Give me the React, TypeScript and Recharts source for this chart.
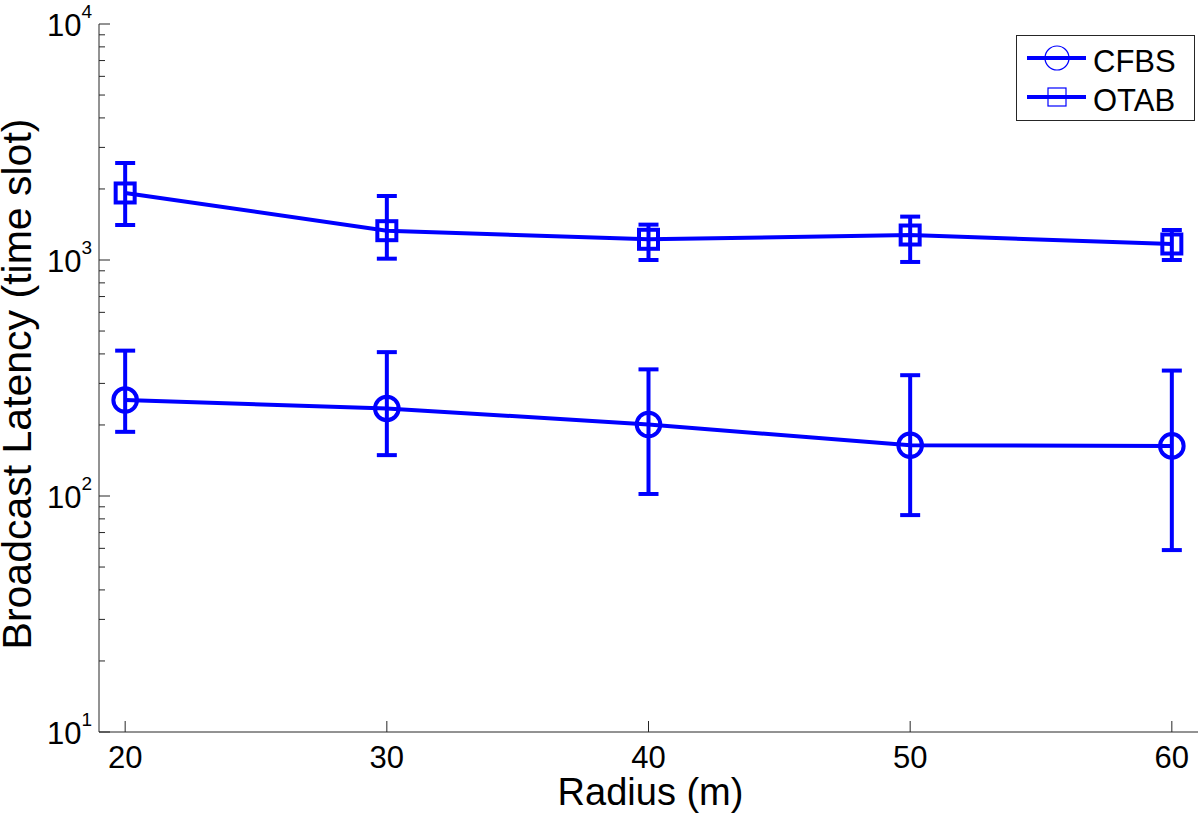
import {
  ComposedChart,
  Line,
  XAxis,
  YAxis,
  ErrorBar,
  Legend,
} from "recharts";

const FONT = "'Liberation Sans', Arial, Helvetica, sans-serif";
const BLUE = "#0000ff";
const AXIS = "#262626";

// radius (m)
const radius = [20, 30, 40, 50, 60];

// CFBS mean latency and error bar ends (time slots)
const cfbsMean = [255, 235, 201, 164, 163];
const cfbsLow = [187, 149, 102, 83, 59];
const cfbsHigh = [413, 407, 344, 325, 340];

// OTAB mean latency and error bar ends (time slots)
const otabMean = [1923, 1331, 1224, 1276, 1169];
const otabLow = [1407, 1013, 1000, 981, 1000];
const otabHigh = [2576, 1867, 1412, 1527, 1340];

const xTicks = [20, 30, 40, 50, 60];
const yMajorTicks = [10, 100, 1000, 10000];
const yMinorSteps = [2, 3, 4, 5, 6, 7, 8, 9];

const seriesNames = ["CFBS", "OTAB"];

const yAllTicks: number[] = [];
yMajorTicks.forEach((d, i) => {
  yAllTicks.push(d);
  if (i < yMajorTicks.length - 1) yMinorSteps.forEach((m) => yAllTicks.push(m * d));
});

const data = radius.map((r, i) => ({
  radius: r,
  cfbs: cfbsMean[i],
  cfbsErr: [cfbsMean[i] - cfbsLow[i], cfbsHigh[i] - cfbsMean[i]],
  otab: otabMean[i],
  otabErr: [otabMean[i] - otabLow[i], otabHigh[i] - otabMean[i]],
}));

const isMajor = (v: number) => yMajorTicks.includes(v);

function LeftTick(props: any) {
  const { x, y, payload } = props;
  const v = payload.value;
  const major = isMajor(v);
  return (
    <g>
      <line x1={x} y1={y} x2={x + (major ? 11 : 6)} y2={y} stroke={AXIS} strokeWidth={1} />
      {major && (
        <text x={x - 7} y={y + 12} textAnchor="end" fontSize={31} fill="#000" fontFamily={FONT}>
          10
          <tspan dy={-18} fontSize={19}>
            {Math.round(Math.log10(v))}
          </tspan>
        </text>
      )}
    </g>
  );
}

function RightTick(props: any) {
  const { x, y, payload } = props;
  const major = isMajor(payload.value);
  return <line x1={x} y1={y} x2={x - (major ? 11 : 6)} y2={y} stroke={AXIS} strokeWidth={1} />;
}

function BottomTick(props: any) {
  const { x, y, payload } = props;
  return (
    <g>
      <line x1={x} y1={y} x2={x} y2={y - 11} stroke={AXIS} strokeWidth={1} />
      <text x={x} y={y + 36} textAnchor="middle" fontSize={31} fill="#000" fontFamily={FONT}>
        {payload.value}
      </text>
    </g>
  );
}

function TopTick(props: any) {
  const { x, y } = props;
  return <line x1={x} y1={y} x2={x} y2={y + 11} stroke={AXIS} strokeWidth={1} />;
}

function CircleDot(props: any) {
  const { cx, cy, index } = props;
  return <circle key={"c" + index} cx={cx} cy={cy} r={11.8} fill="none" stroke={BLUE} strokeWidth={4} />;
}

function SquareDot(props: any) {
  const { cx, cy, index } = props;
  return (
    <rect key={"s" + index} x={cx - 9.5} y={cy - 9.5} width={19} height={19} fill="none" stroke={BLUE} strokeWidth={4} />
  );
}

function LegendBox() {
  return (
    <svg width={180} height={87} style={{ display: "block" }}>
      <rect x={0.5} y={0.5} width={178} height={85} fill="#fff" stroke={AXIS} strokeWidth={1} />
      {seriesNames.map((name, i) => {
        const cy = i === 0 ? 23 : 62;
        return (
          <g key={name}>
            <line x1={11} y1={cy} x2={70} y2={cy} stroke={BLUE} strokeWidth={4} />
            {i === 0 ? (
              <circle cx={41} cy={cy} r={12} fill="none" stroke={BLUE} strokeWidth={1.2} />
            ) : (
              <rect x={32} y={cy - 9} width={18} height={18} fill="none" stroke={BLUE} strokeWidth={1.2} />
            )}
            <text x={77} y={cy + 14} fontSize={31} fill="#000" fontFamily={FONT}>
              {name}
            </text>
          </g>
        );
      })}
    </svg>
  );
}

function YTitle(props: any) {
  const { viewBox } = props;
  const cx = 31;
  const cy = viewBox.y + viewBox.height / 2 + 6;
  return (
    <text
      x={cx}
      y={cy}
      transform={`rotate(-90, ${cx}, ${cy})`}
      textAnchor="middle"
      fontSize={41}
      fill="#000"
      fontFamily={FONT}
    >
      Broadcast Latency (time slot)
    </text>
  );
}

function XTitle(props: any) {
  const { viewBox } = props;
  const cx = viewBox.x + viewBox.width / 2 + 2;
  return (
    <text x={cx} y={805} textAnchor="middle" fontSize={38} fill="#000" fontFamily={FONT}>
      Radius (m)
    </text>
  );
}

export default function App() {
  return (
    <div style={{ position: "absolute", left: 0, top: 0, background: "#fff" }}>
      <ComposedChart
        width={1200}
        height={813}
        data={data}
        margin={{ top: 24, right: 2, bottom: 0, left: 0 }}
      >
        <XAxis
          dataKey="radius"
          type="number"
          domain={[19, 61]}
          ticks={xTicks}
          allowDataOverflow
          interval={0}
          height={81}
          tickSize={0}
          tickMargin={0}
          tickLine={false}
          axisLine={{ stroke: AXIS, strokeWidth: 1 }}
          tick={<BottomTick />}
          label={<XTitle />}
        />
        <XAxis
          xAxisId="top"
          orientation="top"
          type="number"
          domain={[19, 61]}
          ticks={xTicks}
          allowDataOverflow
          interval={0}
          height={0}
          tickSize={0}
          tickMargin={0}
          tickLine={false}
          axisLine={{ stroke: AXIS, strokeWidth: 1 }}
          tick={<TopTick />}
        />
        <YAxis
          scale="log"
          type="number"
          domain={[10, 10000]}
          ticks={yAllTicks}
          allowDataOverflow
          interval={0}
          width={99}
          tickSize={0}
          tickMargin={0}
          tickLine={false}
          axisLine={{ stroke: AXIS, strokeWidth: 1 }}
          tick={<LeftTick />}
          label={<YTitle />}
        />
        <YAxis
          yAxisId="right"
          orientation="right"
          scale="log"
          type="number"
          domain={[10, 10000]}
          ticks={yAllTicks}
          allowDataOverflow
          interval={0}
          width={0}
          tickSize={0}
          tickMargin={0}
          tickLine={false}
          axisLine={{ stroke: AXIS, strokeWidth: 1 }}
          tick={<RightTick />}
        />
        <Legend
          layout="horizontal"
          verticalAlign="middle"
          align="center"
          content={() => <LegendBox />}
          wrapperStyle={{ left: 1016, top: 35, width: 180, height: 87 }}
        />
        <Line
          dataKey="cfbs"
          name="CFBS"
          stroke={BLUE}
          strokeWidth={4}
          dot={<CircleDot />}
          activeDot={false}
          isAnimationActive={false}
        >
          <ErrorBar dataKey="cfbsErr" width={10} stroke={BLUE} strokeWidth={4} isAnimationActive={false} />
        </Line>
        <Line
          dataKey="otab"
          name="OTAB"
          stroke={BLUE}
          strokeWidth={4}
          dot={<SquareDot />}
          activeDot={false}
          isAnimationActive={false}
        >
          <ErrorBar dataKey="otabErr" width={10} stroke={BLUE} strokeWidth={4} isAnimationActive={false} />
        </Line>
      </ComposedChart>
    </div>
  );
}
